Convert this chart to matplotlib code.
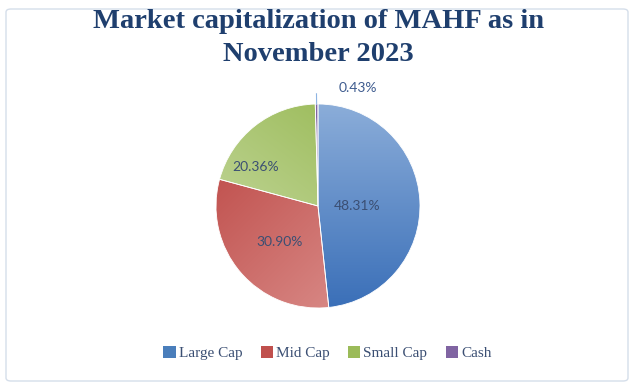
import numpy as np
import matplotlib.pyplot as plt
from matplotlib.patches import FancyBboxPatch, Patch
from matplotlib.colors import to_rgb

categories = ['Large Cap', 'Mid Cap', 'Small Cap', 'Cash']
shares = [48.31, 30.90, 20.36, 0.43]
pct_labels = ['48.31%', '30.90%', '20.36%', '0.43%']

# base colours and gradient (dark, light, direction dark->light)
dark = ['#3A6FB8', '#C0504D', '#9BBB59', '#8064A2']
light = ['#8BADD9', '#DA8D8A', '#C6D9A0', '#8064A2']
grad_dir = [(0, 1), (0.7, -0.7), (-0.6, -0.8), (0, 1)]
legend_cols = ['#4A7EBB', '#C0504D', '#9BBB59', '#8064A2']

title_col = '#1F3F6E'
text_col = '#3B4F73'

fig = plt.figure(figsize=(6.37, 3.87), dpi=100)
fig.patch.set_facecolor('white')
fig.patches.append(FancyBboxPatch((6 / 637, 6 / 387), 622 / 637, 372 / 387,
                                  boxstyle='round,pad=0,rounding_size=0.008',
                                  transform=fig.transFigure, facecolor='none',
                                  edgecolor='#D5DEEA', linewidth=1))

fig.text(0.5, 0.976, 'Market capitalization of MAHF as in\nNovember 2023', ha='center', va='top',
         fontsize=20.5, fontweight='bold', family='Liberation Serif', color=title_col, linespacing=1.42)

cx, cy, r = 318, 206, 102
ax = fig.add_axes([(cx - r) / 637, (387 - cy - r) / 387, 2 * r / 637, 2 * r / 387])
wedges, _ = ax.pie(shares, startangle=90, counterclock=False, radius=1,
                   colors=dark, wedgeprops=dict(edgecolor='white', linewidth=0.6))
ax.set_xlim(-1, 1)
ax.set_ylim(-1, 1)
ax.axis('off')

xx, yy = np.meshgrid(np.linspace(-1, 1, 300), np.linspace(1, -1, 300))
for w, d, l, g in zip(wedges, dark, light, grad_dir):
    t = (xx * g[0] + yy * g[1] + 1) / 2
    t = np.clip(t, 0, 1)[..., None]
    img = np.array(to_rgb(d)) * (1 - t) + np.array(to_rgb(l)) * t
    im = ax.imshow(img, extent=[-1, 1, -1, 1], zorder=w.get_zorder() + 0.1)
    im.set_clip_path(w)
    w.set_facecolor('none')
    w.set_zorder(w.get_zorder() + 0.2)

# label placement: distance from centre and angle shift per slice
dist = [0.38, 0.52, 0.72]
shift = [-3, 3, 20]
for w, lab, d, s in zip(wedges[:3], pct_labels[:3], dist, shift):
    ang = np.deg2rad((w.theta1 + w.theta2) / 2 + s)
    ax.text(d * np.cos(ang), d * np.sin(ang), lab, ha='center', va='center',
            fontsize=10, family='Lato', color=text_col, zorder=10)

cw = wedges[3]
ang = np.deg2rad((cw.theta1 + cw.theta2) / 2)
ax.plot([np.cos(ang), np.cos(ang) * 1.1], [np.sin(ang), np.sin(ang) * 1.1 + 0.0],
        color='#8EB4E3', linewidth=0.8, clip_on=False, zorder=10)
ax.text(0.39, 1.16, pct_labels[3], ha='center', va='center', fontsize=10, family='Lato',
        color='#3F5C8F', clip_on=False, zorder=10)

handles = [Patch(facecolor=c, edgecolor='none') for c in legend_cols]
leg = fig.legend(handles, categories, loc='center', bbox_to_anchor=(0.514, 1 - 353 / 387), ncol=4,
                 frameon=False, handlelength=0.8, handleheight=0.8, handletextpad=0.2,
                 columnspacing=1.2, prop=dict(family='Liberation Serif', size=11))
for t in leg.get_texts():
    t.set_color(text_col)

fig.savefig('out.png', dpi=100)
